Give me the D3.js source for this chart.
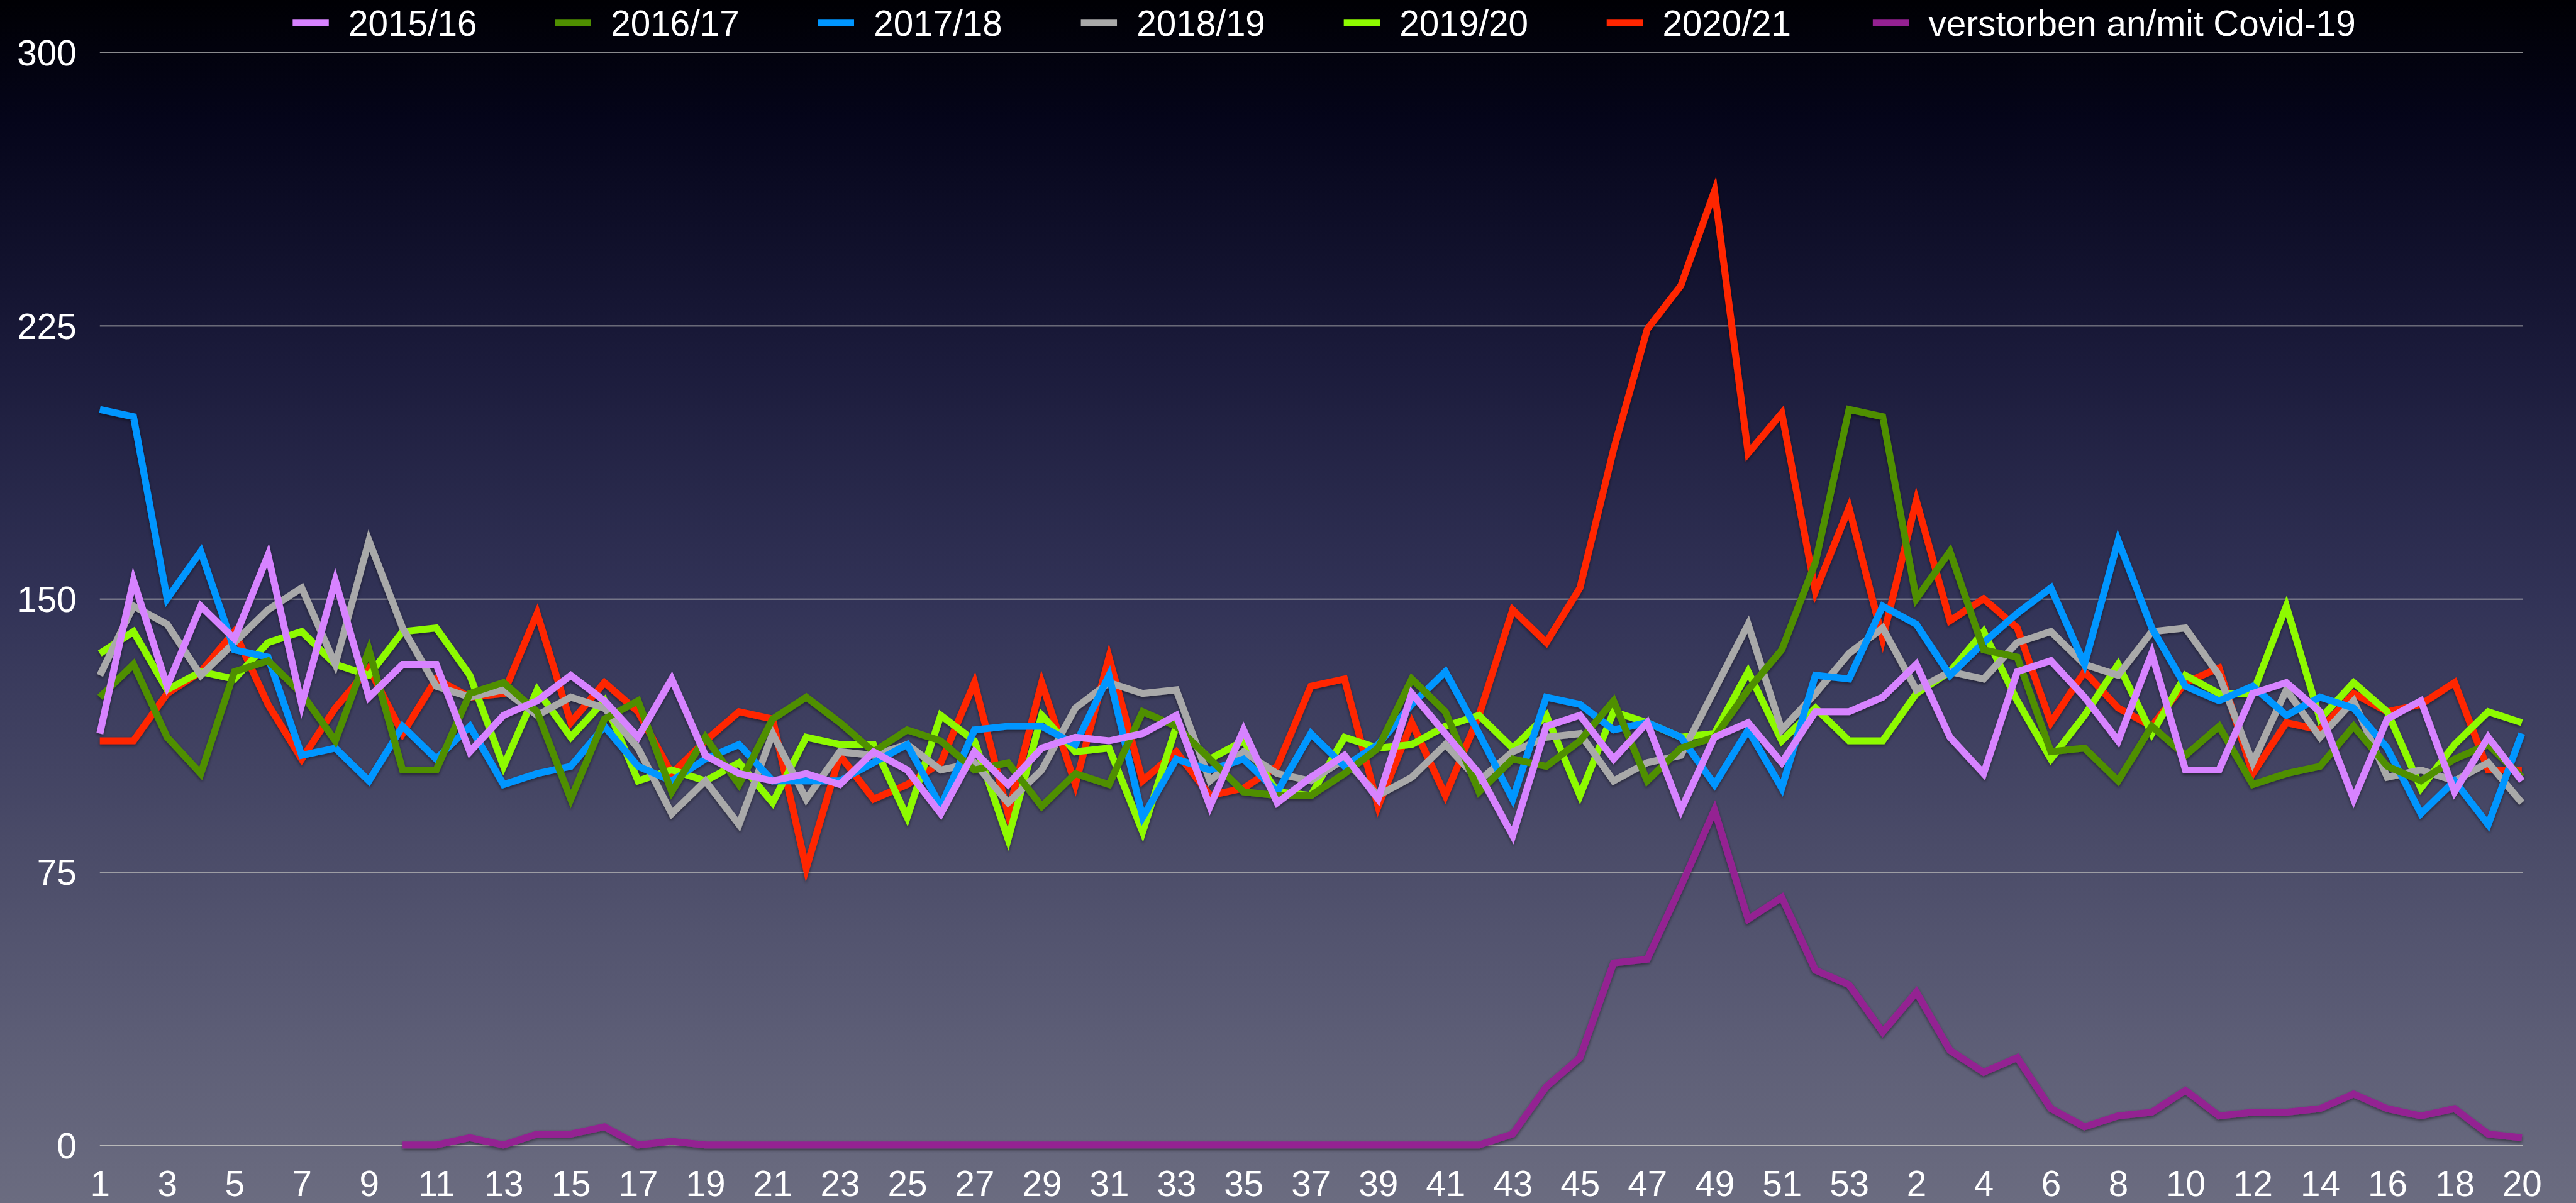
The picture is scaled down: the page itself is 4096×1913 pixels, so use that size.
<!DOCTYPE html>
<html><head><meta charset="utf-8">
<script src="https://cdn.jsdelivr.net/npm/d3@7"></script>
<style>html,body{margin:0;padding:0;background:#000;overflow:hidden}</style>
</head><body><svg id="c" width="4096" height="1913"></svg>
<script>
// ---- data ----
const weeks = [1,2,3,4,5,6,7,8,9,10,11,12,13,14,15,16,17,18,19,20,21,22,23,24,25,26,27,28,29,30,
  31,32,33,34,35,36,37,38,39,40,41,42,43,44,45,46,47,48,49,50,51,52,53,
  1,2,3,4,5,6,7,8,9,10,11,12,13,14,15,16,17,18,19,20];
const yTicks = [0,75,150,225,300];
const seriesNames = ["2015/16","2016/17","2017/18","2018/19","2019/20","2020/21","verstorben an/mit Covid-19"];
const seriesColors = ["#d783ff","#4f8f00","#0096ff","#a9a9a9","#8efa00","#ff2600","#942192"];

const s2015_16 = [113,155,126,148,139,162,121,155,123,132, 132,108,118,122,129,122,112,128,107,102,
  100,102,99,108,103,91,108,99,109,112, 111,113,118,93,114,94,101,107,95,124,
  113,102,85,115,118,106,116,92,112,116, 105,119,119,123,132,112,102,130,133,123,
  111,135,103,103,124,127,119,95,117,122, 97,112,100];
const s2016_17 = [123,132,112,102,130,133,124,111,136,103, 103,124,127,119,95,117,122,97,112,99,
  117,123,116,108,114,111,103,105,93,102, 99,119,115,106,97,96,96,102,109,128,
  119,97,106,104,111,122,100,109,112,125, 136,160,202,200,150,163,136,134,108,109,
  100,115,107,115,99,102,104,115,104,100, 106,110,101];
const s2017_18 = [202,200,150,163,136,134,107,109,100,115, 106,115,99,102,104,115,104,100,106,110,
  100,100,100,105,110,93,114,115,115,110, 129,90,106,103,106,97,113,104,110,121,
  130,113,95,123,121,114,116,112,99,114, 98,129,128,148,143,129,138,146,153,132,
  166,142,126,122,126,118,123,120,109,91, 100,88,113];
const s2018_19 = [129,148,143,129,138,147,153,132,166,142, 126,123,125,118,123,120,109,91,100,88,
  113,95,108,107,110,103,105,94,103,120, 127,124,125,100,108,102,100,106,96,101,
  110,100,108,112,113,100,105,107,125,143, 114,124,135,142,125,130,128,138,141,132,
  129,141,142,129,105,125,112,122,101,103, 100,105,94];
const s2019_20 = [135,141,125,130,128,138,141,132,129,141, 142,129,104,125,112,122,100,103,100,105,
  94,112,110,110,90,118,111,84,118,108, 109,86,115,106,111,97,96,112,109,110,
  115,118,109,118,96,119,116,112,113,130, 111,120,111,111,124,130,141,122,106,118,
  132,113,129,124,124,148,117,127,119,98, 110,119,116];
const s2020_21 = [111,111,124,130,141,121,106,120,131,113, 128,123,124,146,116,127,119,102,111,119,
  117,76,107,95,99,105,127,91,127,99, 134,100,108,96,98,104,126,128,93,116,
  96,118,147,138,153,191,224,236,262,190, 201,152,175,139,177,144,150,142,116,130,
  120,115,127,131,102,116,114,124,119,121, 127,103,103];
const covid = [null,null,null,null,null,null,null,null,null,
  0,0,2,0,3,3,5,0,1,0,
  0,0,0,0,0,0,0,0,0,0,0,0,0,0,0,0,0,0,0,0,0,0,0,
  3,16,24,50,51,71,92,62,68,48,44,31,42,26,20,24,10,5,8,9,15,8,9,9,10,14,10,8,10,3,2];

const allSeries = [s2015_16,s2016_17,s2017_18,s2018_19,s2019_20,s2020_21,covid];

// ---- layout ----
const W = 4096, H = 1913, S = W/4850;
const FONT = "'Liberation Sans', Arial, Helvetica, sans-serif";
const FS = 67*S;
const svg = d3.select('#c');
const defs = svg.append('defs');
const grad = defs.append('linearGradient').attr('id','bg').attr('x1',0).attr('y1',0).attr('x2',0).attr('y2',1);
[[0,'#000004'],[0.1,'#05051a'],[0.3,'#1b1b3b'],[0.5,'#323357'],[0.7,'#4a4b68'],[0.85,'#5b5c75'],[1,'#6b6c80']]
  .forEach(([o,c])=>grad.append('stop').attr('offset',o).attr('stop-color',c));
const f = defs.append('filter').attr('id','sh').attr('filterUnits','userSpaceOnUse')
  .attr('x',0).attr('y',0).attr('width',W).attr('height',H);
f.append('feDropShadow').attr('dx',0).attr('dy',3*S).attr('stdDeviation',3*S)
  .attr('flood-color','#000').attr('flood-opacity',0.45);

svg.append('rect').attr('width',W).attr('height',H).attr('fill','url(#bg)');

const x = d3.scaleLinear().domain([0, weeks.length-1]).range([188*S, 4748*S]);
const y = d3.scaleLinear().domain([0,300]).range([2156*S, 99*S]);

// y axis with gridlines
const yAxis = d3.axisLeft(y).tickValues(yTicks)
  .tickSize(-(x(weeks.length-1)-x(0)+2*S)).tickPadding(44*S);
const gy = svg.append('g').attr('transform',`translate(${x(0)},0)`).call(yAxis);
gy.select('.domain').remove();
gy.selectAll('.tick line').attr('stroke','#b9b9b9').attr('stroke-width',d=>d===0?3.2*S:2*S);
gy.selectAll('.tick text').attr('fill','#fff').attr('font-family',FONT).attr('font-size',FS).attr('dy','0.36em');

// x axis
const xAxis = d3.axisBottom(x).tickValues(d3.range(0, weeks.length, 2))
  .tickFormat(i=>weeks[i]).tickSize(0).tickPadding(49*S);
const gx = svg.append('g').attr('transform',`translate(0,${y(0)})`).call(xAxis);
gx.select('.domain').remove();
gx.selectAll('.tick text').attr('fill','#fff').attr('font-family',FONT).attr('font-size',FS);

// lines
const line = d3.line().defined(d=>d!=null).x((d,i)=>x(i)).y(d=>y(d));
const order = d3.range(allSeries.length).reverse();
const lg = svg.append('g').attr('filter','url(#sh)');
order.forEach(k=>{
  lg.append('path').datum(allSeries[k]).attr('d',line)
    .attr('fill','none').attr('stroke',seriesColors[k]).attr('stroke-width',13*S)
    .attr('stroke-linejoin','miter').attr('stroke-miterlimit',10).attr('stroke-linecap','butt');
});

// legend
const legendX = [551,1045,1540,2035,2530,3025,3526];
const leg = svg.append('g');
seriesNames.forEach((n,k)=>{
  const g = leg.append('g').attr('transform',`translate(${legendX[k]*S},${43*S})`);
  g.append('line').attr('x1',0).attr('x2',68*S).attr('y1',0).attr('y2',0)
    .attr('stroke',seriesColors[k]).attr('stroke-width',12*S);
  g.append('text').attr('x',105*S).attr('y',0).attr('dy','0.36em')
    .attr('fill','#fff').attr('font-family',FONT).attr('font-size',FS).text(n);
});
</script>
</body></html>
